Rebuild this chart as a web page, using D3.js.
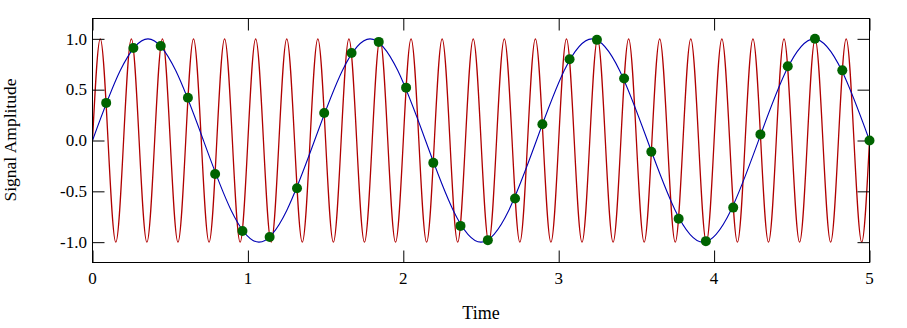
<!DOCTYPE html>
<html>
<head>
<meta charset="utf-8">
<script src="https://cdn.jsdelivr.net/npm/d3@7"></script>
<style>
  html, body { margin: 0; padding: 0; background: #fff; }
  svg { display: block; }
  text { font-family: "Liberation Serif", "Times New Roman", serif; fill: #000; }
</style>
</head>
<body>
<svg id="chart" width="907" height="328"></svg>
<script>
// ---- data ----
const xTicks = [0, 1, 2, 3, 4, 5];
const xTickLabels = ["0", "1", "2", "3", "4", "5"];
const yTicks = [-1.0, -0.5, 0.0, 0.5, 1.0];
const yTickLabels = ["-1.0", "-0.5", "0.0", "0.5", "1.0"];

// high-frequency (red) signal: values at quarter-period knots, every 0.05 s
const redStep = 0.05;
const redValues = [
  0, 1, 0, -1, 0, 1, 0, -1, 0, 1, 0, -1, 0, 1, 0, -1, 0, 1, 0, -1,
  0, 1, 0, -1, 0, 1, 0, -1, 0, 1, 0, -1, 0, 1, 0, -1, 0, 1, 0, -1,
  0, 1, 0, -1, 0, 1, 0, -1, 0, 1, 0, -1, 0, 1, 0, -1, 0, 1, 0, -1,
  0, 1, 0, -1, 0, 1, 0, -1, 0, 1, 0, -1, 0, 1, 0, -1, 0, 1, 0, -1,
  0, 1, 0, -1, 0, 1, 0, -1, 0, 1, 0, -1, 0, 1, 0, -1, 0, 1, 0, -1,
  0
];

// low-frequency (blue) alias signal: knots at zero crossings and extrema
const blueTimes = [0, 0.357, 0.714, 1.071, 1.429, 1.786, 2.143, 2.5, 2.857,
                   3.214, 3.571, 3.929, 4.286, 4.643, 5.0];
const blueValues = [0, 1, 0, -1, 0, 1, 0, -1, 0, 1, 0, -1, 0, 1, 0];

// sampled points (green)
const sampleTimes = [0.088, 0.263, 0.439, 0.614, 0.789, 0.965, 1.140, 1.316,
  1.491, 1.667, 1.842, 2.018, 2.193, 2.368, 2.544, 2.719, 2.895, 3.070,
  3.246, 3.421, 3.596, 3.772, 3.947, 4.123, 4.298, 4.474, 4.649, 4.825, 5.0];
const sampleValues = [0.37, 0.91, 0.93, 0.42, -0.33, -0.89, -0.95, -0.47,
  0.27, 0.86, 0.97, 0.52, -0.22, -0.84, -0.98, -0.57, 0.16, 0.80, 0.99,
  0.61, -0.11, -0.77, -0.99, -0.66, 0.06, 0.73, 1.0, 0.69, 0.0];

// ---- layout ----
const svg = d3.select("#chart");
const L = 92.5, R = 869.5, T = 18.5, B = 262.5;
const tickLen = 12;
const x = d3.scaleLinear().domain([0, 5]).range([L, R]);
const y = d3.scaleLinear().domain([-1.2, 1.2]).range([B, T]);

const redData = redValues.map((v, i) => [i * redStep, v]);
const blueData = blueTimes.map((t, i) => [t, blueValues[i]]);
const samples = sampleTimes.map((t, i) => [t, sampleValues[i]]);

svg.append("defs").append("clipPath").attr("id", "clip")
  .append("rect").attr("x", L).attr("y", T).attr("width", R - L).attr("height", B - T);

const line = d3.line().x(d => x(d[0])).y(d => y(d[1])).curve(d3.curveNatural);

const plot = svg.append("g").attr("clip-path", "url(#clip)");
plot.append("path").datum(redData)
  .attr("d", line).attr("fill", "none")
  .attr("stroke", "#b00000").attr("stroke-width", 1.3);
plot.append("path").datum(blueData)
  .attr("d", line).attr("fill", "none")
  .attr("stroke", "#0000b4").attr("stroke-width", 1.1);

// axes (ticks inward on all four sides)
const axFmt = (labels, ticks) => (d => labels[ticks.indexOf(d)]);
svg.append("g").attr("transform", `translate(0,${B})`)
  .call(d3.axisTop(x).tickValues(xTicks).tickSize(tickLen).tickFormat(""))
  .call(g => g.select(".domain").remove());
svg.append("g").attr("transform", `translate(0,${T})`)
  .call(d3.axisBottom(x).tickValues(xTicks).tickSize(tickLen).tickFormat(""))
  .call(g => g.select(".domain").remove());
svg.append("g").attr("transform", `translate(${L},0)`)
  .call(d3.axisRight(y).tickValues(yTicks).tickSize(tickLen).tickFormat(""))
  .call(g => g.select(".domain").remove());
svg.append("g").attr("transform", `translate(${R},0)`)
  .call(d3.axisLeft(y).tickValues(yTicks).tickSize(tickLen).tickFormat(""))
  .call(g => g.select(".domain").remove());
svg.selectAll(".tick line").attr("stroke", "#000").attr("stroke-width", 1);

// frame
svg.append("rect").attr("x", L).attr("y", T).attr("width", R - L).attr("height", B - T)
  .attr("fill", "none").attr("stroke", "#000").attr("stroke-width", 1);

// tick labels
svg.append("g").selectAll("text").data(xTicks).join("text")
  .attr("x", d => x(d)).attr("y", 284)
  .attr("text-anchor", "middle").attr("font-size", 17)
  .text(axFmt(xTickLabels, xTicks));
svg.append("g").selectAll("text").data(yTicks).join("text")
  .attr("x", L - 5.5).attr("y", d => y(d)).attr("dy", "0.34em")
  .attr("text-anchor", "end").attr("font-size", 17)
  .text(axFmt(yTickLabels, yTicks));

// axis titles
svg.append("text").attr("x", 481).attr("y", 319)
  .attr("text-anchor", "middle").attr("font-size", 18).text("Time");
svg.append("text").attr("transform", `translate(15.5,140) rotate(-90)`)
  .attr("text-anchor", "middle").attr("font-size", 17.5).text("Signal Amplitude");

// sampled points
svg.append("g").selectAll("circle").data(samples).join("circle")
  .attr("cx", d => x(d[0])).attr("cy", d => y(d[1])).attr("r", 5)
  .attr("fill", "#006400");
</script>
</body>
</html>
